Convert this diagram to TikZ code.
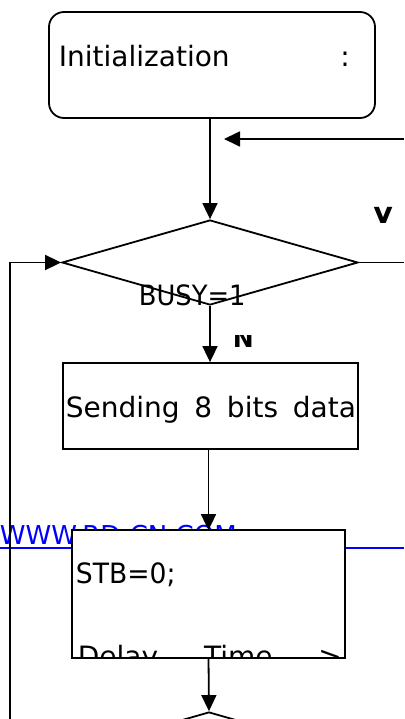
\documentclass[tikz,border=0pt]{standalone}
\usepackage{fontspec}
\setmainfont{DejaVu Sans}
\usetikzlibrary{shapes.geometric,arrows.meta}
\newcommand{\txtbig}{\fontsize{28}{33}\selectfont}
\newcommand{\txtwww}{\fontsize{26}{31}\selectfont}
\newcommand{\txtlab}{\fontsize{25}{30}\selectfont\bfseries}
\begin{document}
\begin{tikzpicture}[x=1pt,y=-1pt,line width=1.8pt,
  arr/.style={-{Triangle[length=16pt,width=15pt]}},
  boxshape/.style={draw,fill=white,inner sep=0pt},
  decision/.style={draw,diamond,aspect=3.48,minimum width=296pt,minimum height=85pt,inner sep=0pt},
  txt/.style={anchor=base west,inner sep=0pt,font=\txtbig}]
\useasboundingbox (0,0) rectangle (404,719);
\clip (0,0) rectangle (404,719);
% start box
\node[boxshape,rounded corners=15pt,minimum width=326pt,minimum height=106pt] (init) at (212,65) {};
\node[txt] (inittxt) at (58,67) {\makebox[291pt][s]{Initialization\hfill:}};
% decision
\node[decision] (dia) at (210,262.5) {};
\node[txt] (busy) at (138,305) {\scalebox{0.92}[1]{BUSY=1}};
% send box
\node[boxshape,minimum width=295pt,minimum height=86pt] (send) at (210.5,406) {};
\node[txt] (sendtxt) at (65,417) {\makebox[290pt][s]{Sending 8 bits data}};
% blue watermark
\coordinate (bl) at (0,548);
\coordinate (br) at (404,548);
\draw[blue,line width=2.4pt] (bl) -- (br);
\node[anchor=base west,inner sep=0pt,font=\txtwww,text=blue] (www) at (-1,544) {WWW.RD-CN.COM};
% STB box (filled, outline drawn after the clipped text)
\node[fill=white,inner sep=0pt,minimum width=271pt,minimum height=126pt] (stb) at (208.5,594) {};
\node[txt] (stbtxt) at (75,583) {\scalebox{0.95}[1]{STB=0;}};
\begin{scope}
  \clip (stb.south west) rectangle (stb.north east);
  \node[txt] (delay) at (77,666) {\makebox[264pt][s]{Delay Time >}};
\end{scope}
\draw (stb.south west) rectangle (stb.north east);
% second decision (cut off)
\node[decision] (dia2) at (209,754.5) {};
% labels
\begin{scope}
  \clip (360,200) rectangle (404,222);
  \node[anchor=north,inner sep=0pt,font=\txtlab] (ylab) at (384,206) {\scalebox{1}[1.6]{Y}};
\end{scope}
\begin{scope}
  \clip (225,335) rectangle (262,350);
  \node[anchor=base west,inner sep=0pt,font=\txtlab] (nlab) at (232,347) {N};
\end{scope}
% connectors
\draw[arr] (dia.north |- init.south) -- (dia.north);
\coordinate (rin) at (404,139);
\coordinate (rtip) at (224,139);
\draw[arr] (rin) -- (rtip);
\coordinate (rout) at (404,262.5);
\draw (dia.east) -- (rout);
\coordinate (lb) at (10,719);
\draw[arr] (lb) |- (dia.west);
\draw[arr] (dia.south) -- (dia.south |- send.north);
\draw[arr] (stb.north |- send.south) -- (stb.north);
\draw[arr] (stb.south) -- (dia2.north);
\end{tikzpicture}
\end{document}
